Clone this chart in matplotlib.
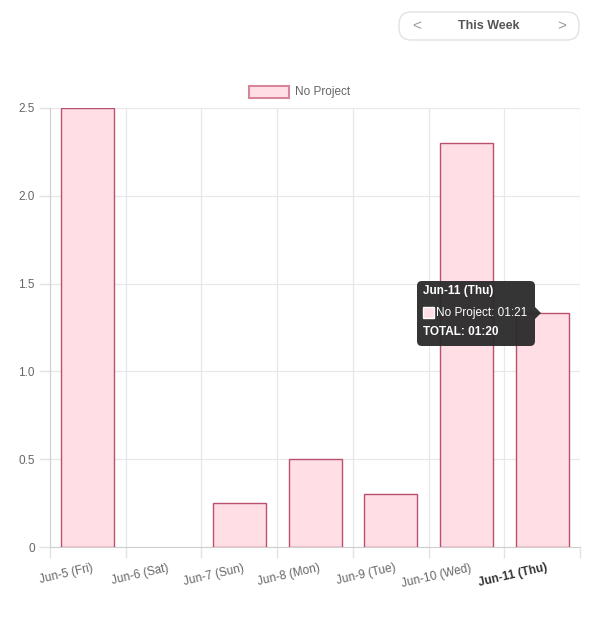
import numpy as np
import matplotlib.pyplot as plt
from matplotlib.patches import FancyBboxPatch, Rectangle, Polygon

# data
days = ['Jun-5 (Fri)', 'Jun-6 (Sat)', 'Jun-7 (Sun)', 'Jun-8 (Mon)',
        'Jun-9 (Tue)', 'Jun-10 (Wed)', 'Jun-11 (Thu)']
hours = [2.5, 0.0, 0.25, 0.5, 0.3, 2.3, 1.33]
y_ticks = [0, 0.5, 1.0, 1.5, 2.0, 2.5]
y_tick_labels = ['0', '0.5', '1.0', '1.5', '2.0', '2.5']
series_name = 'No Project'
tooltip_title = 'Jun-11 (Thu)'
tooltip_line = 'No Project: 01:21'
tooltip_total = 'TOTAL: 01:20'

W, H = 598, 625
fig = plt.figure(figsize=(W / 100, H / 100), dpi=100)
plt.rcParams['font.family'] = ['Liberation Sans', 'DejaVu Sans']

L, R, T, B = 50, 580, 108, 547
ax = fig.add_axes([L / W, 1 - B / H, (R - L) / W, (B - T) / H])

face = '#ffdfe5'
edge = '#b8506e'
x = np.arange(len(days))
edges = [edge if v > 0 else 'none' for v in hours]
ax.bar(x, hours, width=0.7, color=face, edgecolor=edges, linewidth=1.0, zorder=3)

ax.set_xlim(-0.5, len(days) - 0.5)
ax.set_ylim(0, 2.5)

# gridlines sit between categories
ax.set_xticks(np.arange(len(days) + 1) - 0.5)
ax.set_xticklabels([])
ax.tick_params(axis='x', length=8, color='#e3e3e3', width=1)

# rotated day labels, right end at the category centre
for i, d in enumerate(days):
    bold = d == 'Jun-11 (Thu)'
    ax.text(i + 0.05, -0.034, d, transform=ax.get_xaxis_transform(),
            rotation=13, rotation_mode='anchor', ha='right', va='top',
            fontsize=8.5, color='#333333' if bold else '#666666',
            fontweight='bold' if bold else 'normal', clip_on=False)

ax.set_yticks(y_ticks)
ax.set_yticklabels(y_tick_labels, fontsize=8.5, color='#666666')
ax.tick_params(axis='y', length=8, color='#e3e3e3', width=1, pad=3)

ax.grid(True, color='#e8e8e8', linewidth=0.9, zorder=0)
for side in ['top', 'right']:
    ax.spines[side].set_visible(False)
for side in ['left', 'bottom']:
    ax.spines[side].set_color('#cfcfcf')

# legend at top
fig.patches.append(Rectangle((249 / W, 1 - 98 / H), 40 / W, 12 / H,
                             transform=fig.transFigure, facecolor=face,
                             edgecolor='#d4869a', linewidth=1.5))
fig.text(295 / W, 1 - 92 / H, series_name, fontsize=8.5, color='#666666',
         va='center', ha='left')

# "This Week" selector
fig.patches.append(FancyBboxPatch((399 / W, 1 - 40 / H), 180 / W, 28 / H,
                                  boxstyle='round,pad=0,rounding_size=0.02',
                                  transform=fig.transFigure, facecolor='white',
                                  edgecolor='#e2e2e2', linewidth=1))
fig.text(489 / W, 1 - 26 / H, 'This Week', fontsize=9, color='#555555',
         fontweight='bold', ha='center', va='center')
fig.text(417 / W, 1 - 26 / H, '<', fontsize=11, color='#999999',
         ha='center', va='center')
fig.text(562 / W, 1 - 26 / H, '>', fontsize=11, color='#999999',
         ha='center', va='center')

# tooltip
tt = '#2a2a2a'
fig.patches.append(FancyBboxPatch((417 / W, 1 - 346 / H), 118 / W, 65 / H,
                                  boxstyle='round,pad=0,rounding_size=0.008',
                                  transform=fig.transFigure, facecolor=tt,
                                  edgecolor='none', alpha=0.95, zorder=10))
fig.patches.append(Polygon([(535 / W, 1 - 307 / H), (541 / W, 1 - 313 / H),
                            (535 / W, 1 - 319 / H)], closed=True,
                           transform=fig.transFigure, facecolor=tt,
                           edgecolor='none', alpha=0.95, zorder=10))
fig.text(423 / W, 1 - 291 / H, tooltip_title, fontsize=8.5, color='white',
         fontweight='bold', va='center', zorder=11)
fig.patches.append(Rectangle((423 / W, 1 - 318 / H), 11 / W, 11 / H,
                             transform=fig.transFigure, facecolor=face,
                             edgecolor='white', linewidth=1, zorder=11))
fig.text(436 / W, 1 - 313 / H, tooltip_line, fontsize=8.5, color='white',
         va='center', zorder=11)
fig.text(423 / W, 1 - 332 / H, tooltip_total, fontsize=8.5, color='white',
         fontweight='bold', va='center', zorder=11)

fig.savefig('out.png', dpi=100)
